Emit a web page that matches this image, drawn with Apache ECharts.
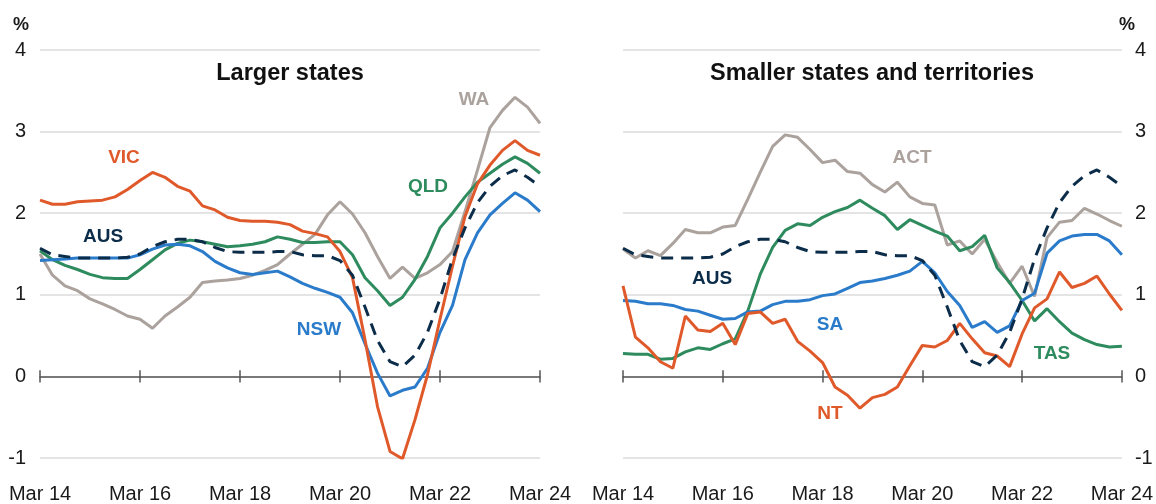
<!DOCTYPE html>
<html>
<head>
<meta charset="utf-8">
<script src="https://cdn.jsdelivr.net/npm/echarts@6/dist/echarts.min.js"></script>
<style>html,body{margin:0;padding:0;background:#fff}#c{width:1156px;height:504px}</style>
</head>
<body>
<div id="c"></div>
<script>
const categories = ['Mar 14','Jun 14','Sep 14','Dec 14','Mar 15','Jun 15','Sep 15','Dec 15',
  'Mar 16','Jun 16','Sep 16','Dec 16','Mar 17','Jun 17','Sep 17','Dec 17',
  'Mar 18','Jun 18','Sep 18','Dec 18','Mar 19','Jun 19','Sep 19','Dec 19',
  'Mar 20','Jun 20','Sep 20','Dec 20','Mar 21','Jun 21','Sep 21','Dec 21',
  'Mar 22','Jun 22','Sep 22','Dec 22','Mar 23','Jun 23','Sep 23','Dec 23','Mar 24'];
const tickLabels = ['Mar 14','Mar 16','Mar 18','Mar 20','Mar 22','Mar 24'];

const aus = [1.57,1.49,1.47,1.45,1.45,1.45,1.45,1.46,1.50,1.59, 1.65,1.68,1.68,1.65,1.58,1.53,1.52,1.52,1.52,1.53, 1.53,1.49,1.48,1.48,1.42,1.24,0.85,0.44,0.18,0.12, 0.26,0.54,0.95,1.44,1.82,2.13,2.33,2.46,2.53,2.44, 2.33];
const vic = [2.16,2.11,2.11,2.14,2.15,2.16,2.20,2.29,2.40,2.50, 2.44,2.33,2.27,2.09,2.04,1.95,1.91,1.90,1.90,1.89, 1.86,1.78,1.75,1.71,1.53,1.21,0.45,-0.37,-0.92,-1.01, -0.53,0.02,0.70,1.35,1.96,2.36,2.59,2.77,2.89,2.77, 2.71];
const nsw = [1.42,1.43,1.44,1.45,1.45,1.45,1.45,1.45,1.49,1.56, 1.61,1.62,1.60,1.53,1.41,1.33,1.27,1.25,1.27,1.29, 1.22,1.14,1.08,1.03,0.97,0.78,0.40,0.04,-0.24,-0.17, -0.13,0.10,0.54,0.87,1.43,1.76,1.98,2.12,2.25,2.16, 2.02];
const qld = [1.54,1.43,1.36,1.31,1.25,1.21,1.20,1.20,1.31,1.43, 1.55,1.63,1.67,1.65,1.62,1.59,1.60,1.62,1.65,1.71, 1.68,1.64,1.64,1.65,1.65,1.49,1.21,1.05,0.87,0.97, 1.19,1.47,1.82,2.00,2.20,2.38,2.49,2.60,2.69,2.61, 2.49];
const wa  = [1.50,1.24,1.11,1.05,0.95,0.89,0.82,0.74,0.70,0.59, 0.74,0.85,0.97,1.15,1.17,1.18,1.20,1.24,1.30,1.37, 1.50,1.62,1.74,1.98,2.14,1.99,1.76,1.47,1.20,1.34, 1.20,1.27,1.37,1.53,2.02,2.53,3.05,3.26,3.42,3.30, 3.10];
const act = [1.56,1.45,1.54,1.48,1.63,1.80,1.76,1.76,1.83,1.85, 2.17,2.50,2.82,2.96,2.93,2.78,2.62,2.65,2.51,2.49, 2.35,2.26,2.38,2.20,2.12,2.10,1.61,1.66,1.50,1.68, 1.40,1.14,1.35,0.98,1.70,1.89,1.91,2.06,1.99,1.91, 1.84];
const sa  = [0.93,0.92,0.89,0.89,0.87,0.82,0.80,0.75,0.70,0.71, 0.79,0.80,0.88,0.92,0.92,0.94,0.99,1.01,1.08,1.15, 1.17,1.20,1.24,1.29,1.41,1.27,1.04,0.87,0.60,0.67, 0.54,0.62,0.93,1.02,1.51,1.66,1.72,1.74,1.74,1.66, 1.49];
const nt  = [1.11,0.48,0.35,0.18,0.10,0.74,0.57,0.55,0.65,0.39, 0.77,0.79,0.65,0.70,0.43,0.31,0.17,-0.13,-0.23,-0.39, -0.26,-0.22,-0.13,0.13,0.38,0.36,0.44,0.65,0.46,0.29, 0.25,0.12,0.52,0.84,0.95,1.28,1.09,1.14,1.23,1.01, 0.81];
const tas = [0.28,0.27,0.27,0.21,0.22,0.30,0.35,0.33,0.40,0.46, 0.80,1.25,1.58,1.79,1.87,1.85,1.95,2.02,2.07,2.16, 2.06,1.97,1.80,1.92,1.85,1.78,1.72,1.54,1.59,1.73, 1.33,1.15,0.93,0.68,0.83,0.67,0.53,0.45,0.39,0.36, 0.37];

const panelTitles = ['Larger states', 'Smaller states and territories'];
const unitLabel = '%';

const C_ORANGE = '#E0592A', C_BLUE = '#2B7BCB', C_GREEN = '#2E8B5E', C_GREY = '#ABA29D', C_NAVY = '#0C2D4A';
const FONT = '"Liberation Sans", Arial, sans-serif';
const TICK_HALF = 0.075; // half tick height in axis units

function xAxis(g) {
  return { gridIndex: g, type: 'category', data: categories, boundaryGap: false, position: 'bottom',
    axisLine: { show: true, onZero: true, lineStyle: { color: '#555', width: 1.5 } },
    axisTick: { show: false },
    axisLabel: { show: false }, splitLine: { show: false } };
}
function labelAxis(g) {
  return { gridIndex: g, type: 'category', data: categories, boundaryGap: false, position: 'bottom',
    axisLine: { show: false, onZero: false }, axisTick: { show: false },
    axisLabel: { interval: 7, fontSize: 20, color: '#1a1a1a', margin: 26, fontFamily: FONT },
    splitLine: { show: false } };
}
function yAxis(g, pos, margin) {
  return { gridIndex: g, type: 'value', min: -1, max: 4, interval: 1, position: pos,
    axisLine: { show: false }, axisTick: { show: false },
    axisLabel: { fontSize: 20, color: '#1a1a1a', margin: margin, fontFamily: FONT, padding: [4, 0, 0, 0] },
    splitLine: { lineStyle: { color: '#e4e4e4', width: 2 } } };
}
function line(name, data, g, color, dashed) {
  return { name: name, type: 'line', data: data, xAxisIndex: g * 2, yAxisIndex: g,
    symbol: 'none', smooth: false, silent: true,
    lineStyle: { color: color, width: 3, type: dashed ? [12, 8] : 'solid' },
    z: dashed ? 5 : 3 };
}
function tickSeries(g) {
  return { type: 'line', data: [], xAxisIndex: g * 2, yAxisIndex: g, silent: true, z: 4,
    markLine: { silent: true, symbol: ['none', 'none'], label: { show: false },
      lineStyle: { color: '#555', width: 1.5, type: 'solid' },
      data: tickLabels.map(c => [{ coord: [c, -TICK_HALF] }, { coord: [c, TICK_HALF] }]) } };
}
function txt(text, x, y, color, size, bold) {
  return { type: 'text', x: x, y: y, silent: true, z: 10,
    style: { text: text, fill: color, font: (bold ? 'bold ' : '') + size + 'px ' + FONT,
      align: 'center', verticalAlign: 'middle' } };
}

const chart = echarts.init(document.getElementById('c'), null, { renderer: 'canvas' });
chart.setOption({
  animation: false,
  backgroundColor: '#fff',
  grid: [
    { left: 40, top: 50, width: 500, height: 410 },
    { left: 623, top: 50, width: 500, height: 410 }
  ],
  xAxis: [xAxis(0), labelAxis(0), xAxis(1), labelAxis(1)],
  yAxis: [yAxis(0, 'left', 14), yAxis(1, 'right', 13)],
  series: [
    tickSeries(0), tickSeries(1),
    line('WA', wa, 0, C_GREY), line('QLD', qld, 0, C_GREEN), line('NSW', nsw, 0, C_BLUE),
    line('VIC', vic, 0, C_ORANGE), line('AUS', aus, 0, C_NAVY, true),
    line('ACT', act, 1, C_GREY), line('TAS', tas, 1, C_GREEN), line('SA', sa, 1, C_BLUE),
    line('NT', nt, 1, C_ORANGE), line('AUS', aus, 1, C_NAVY, true)
  ],
  graphic: [
    txt(unitLabel, 21, 25, '#1a1a1a', 18, true),
    txt(unitLabel, 1127, 25, '#1a1a1a', 18, true),
    txt(panelTitles[0], 290, 74, '#111', 23.5, true),
    txt(panelTitles[1], 872, 74, '#111', 23.5, true),
    txt('VIC', 124, 158, C_ORANGE, 19, true),
    txt('AUS', 103, 237, C_NAVY, 19, true),
    txt('WA', 474, 100, C_GREY, 19, true),
    txt('QLD', 428, 187, C_GREEN, 19, true),
    txt('NSW', 319, 330, C_BLUE, 19, true),
    txt('ACT', 912, 158, C_GREY, 19, true),
    txt('AUS', 712, 279, C_NAVY, 19, true),
    txt('SA', 830, 325, C_BLUE, 19, true),
    txt('NT', 830, 414, C_ORANGE, 19, true),
    txt('TAS', 1052, 354, C_GREEN, 19, true)
  ]
});
</script>
</body>
</html>
